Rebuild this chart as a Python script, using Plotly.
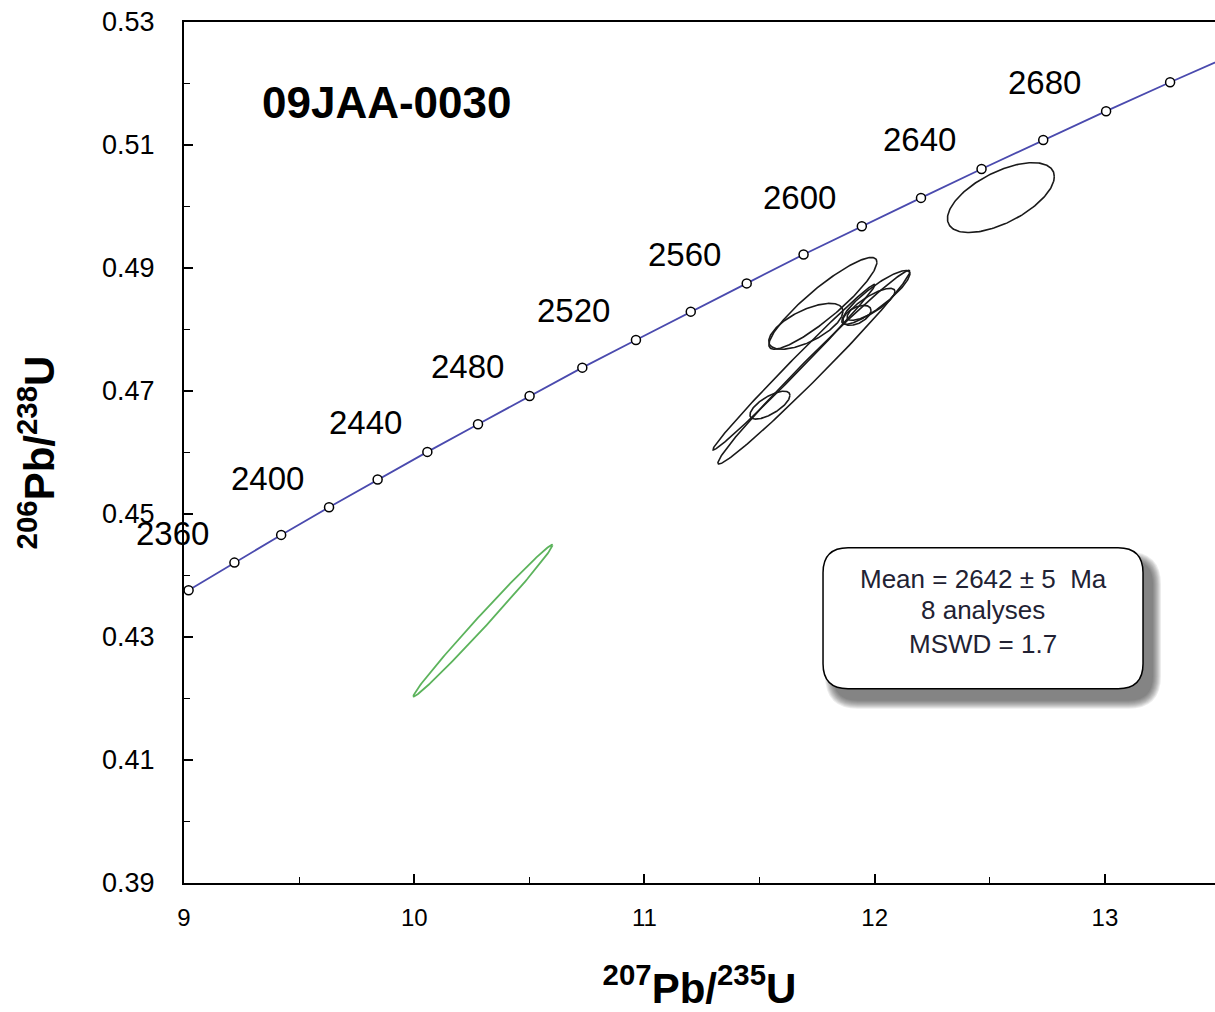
import numpy as np
import plotly.graph_objects as go

# concordia ages (Ma) and ratios
ages = [2340, 2360, 2380, 2400, 2420, 2440, 2460, 2480, 2500, 2520,
        2540, 2560, 2580, 2600, 2620, 2640, 2660, 2680, 2700, 2720]
conc_x = [9.020, 9.219, 9.422, 9.630, 9.841, 10.057, 10.277, 10.501, 10.730, 10.963,
          11.201, 11.444, 11.691, 11.944, 12.201, 12.464, 12.732, 13.005, 13.283, 13.567]
conc_y = [0.4376, 0.4421, 0.4466, 0.4511, 0.4556, 0.4601, 0.4646, 0.4692, 0.4738, 0.4783,
          0.4829, 0.4875, 0.4922, 0.4968, 0.5014, 0.5061, 0.5108, 0.5155, 0.5202, 0.5249]
label_ages = [2360, 2400, 2440, 2480, 2520, 2560, 2600, 2640, 2680]

# analyses: centre x, centre y, sigma x, sigma y, correlation
ell_x = [11.775, 11.701, 11.649, 11.736, 11.545, 12.005, 11.984, 11.923, 12.548]
ell_y = [0.48425, 0.48052, 0.47387, 0.47387, 0.4677, 0.48522, 0.48409, 0.4823, 0.50145]
ell_sx = [0.2345, 0.161, 0.352, 0.417, 0.087, 0.148, 0.104, 0.061, 0.232]
ell_sy = [0.00746, 0.00373, 0.01347, 0.01574, 0.00227, 0.00438, 0.0026, 0.00162, 0.00568]
ell_rho = [0.90, 0.65, 0.9946, 0.989, 0.7, 0.88, 0.8, 0.5, 0.6]

# excluded analysis (green)
rej_x, rej_y, rej_sx, rej_sy, rej_rho = 10.2986, 0.43266, 0.302, 0.01233, 0.994

box_lines = ["Mean = 2642 ± 5  Ma", "8 analyses", "MSWD = 1.7"]
sample_name = "09JAA-0030"

FONT = "Liberation Sans, Arial, sans-serif"


def ellipse_xy(cx, cy, sx, sy, rho, n=200):
    t = np.linspace(0, 2 * np.pi, n)
    x = cx + sx * np.cos(t)
    y = cy + sy * (rho * np.cos(t) + np.sqrt(1 - rho ** 2) * np.sin(t))
    return x, y


def rounded_path(w, h, r):
    return (
        f"M {-w + r},{-h} L {w - r},{-h} Q {w},{-h} {w},{-h + r} "
        f"L {w},{h - r} Q {w},{h} {w - r},{h} L {-w + r},{h} "
        f"Q {-w},{h} {-w},{h - r} L {-w},{-h + r} Q {-w},{-h} {-w + r},{-h} Z"
    )


fig = go.Figure()

fig.add_trace(
    go.Scatter(
        x=conc_x,
        y=conc_y,
        mode="lines+markers",
        line=dict(color="#4a4aae", width=1.8),
        marker=dict(symbol="circle", size=9, color="white",
                    line=dict(color="black", width=1.5)),
        hoverinfo="skip",
    )
)

for cx, cy, sx, sy, r in zip(ell_x, ell_y, ell_sx, ell_sy, ell_rho):
    ex, ey = ellipse_xy(cx, cy, sx, sy, r)
    fig.add_trace(go.Scatter(x=ex, y=ey, mode="lines",
                             line=dict(color="#1a1a1a", width=1.6), hoverinfo="skip"))

ex, ey = ellipse_xy(rej_x, rej_y, rej_sx, rej_sy, rej_rho)
fig.add_trace(go.Scatter(x=ex, y=ey, mode="lines",
                         line=dict(color="#5cb35c", width=1.8), hoverinfo="skip"))

# age labels
for a in label_ages:
    i = ages.index(a)
    fig.add_annotation(
        x=conc_x[i], y=conc_y[i], text=str(a), showarrow=False,
        xanchor="center", yanchor="middle",
        xshift=-62, yshift=29, font=dict(family=FONT, size=33, color="black"),
    )

fig.add_annotation(
    x=0.197, y=0.907, xref="paper", yref="paper", text="<b>" + sample_name + "</b>",
    xanchor="center", yanchor="middle",
    showarrow=False, font=dict(family=FONT, size=44, color="black"),
)

# text box with shadow
bx, by = 0.775, 0.3076
sdx, sdy = 10 / 1031, -12 / 863
for k in range(8, -1, -1):
    fig.add_shape(
        type="path", xref="paper", yref="paper", xsizemode="pixel", ysizemode="pixel",
        xanchor=bx + sdx, yanchor=by + sdy, path=rounded_path(160 + k, 70.5 + k, 25 + k),
        fillcolor="rgba(40,40,40,0.09)", line=dict(width=0),
    )
fig.add_shape(
    type="path", xref="paper", yref="paper", xsizemode="pixel", ysizemode="pixel",
    xanchor=bx, yanchor=by, path=rounded_path(160, 70.5, 25),
    fillcolor="white", line=dict(color="black", width=1.5),
)
for txt, yy in zip(box_lines, [0.3534, 0.3175, 0.2781]):
    fig.add_annotation(
        x=bx, y=yy, xref="paper", yref="paper", text=txt, showarrow=False,
        xanchor="center", yanchor="middle",
        font=dict(family=FONT, size=26, color="#222233"),
    )

fig.update_xaxes(
    range=[9, 13.478], tick0=9, dtick=1, ticks="inside", ticklen=9, tickwidth=1.5,
    tickcolor="black", showline=True, linecolor="black", linewidth=2, mirror=True,
    showgrid=False, zeroline=False, ticklabelstandoff=12, ticklabeloverflow="allow",
    tickfont=dict(family=FONT, size=24, color="black"),
    minor=dict(dtick=0.5, ticks="inside", ticklen=6, tickwidth=1.2, tickcolor="black"),
    title=dict(text="<b><sup>207</sup>Pb/<sup>235</sup>U</b>", standoff=52,
               font=dict(family=FONT, size=42, color="black")),
)
fig.update_yaxes(
    range=[0.39, 0.53], tick0=0.39, dtick=0.02, tickformat=".2f", ticks="inside",
    ticklen=9, tickwidth=1.5, tickcolor="black", showline=True, linecolor="black",
    linewidth=2, showgrid=False, zeroline=False, ticklabelstandoff=22,
    ticklabeloverflow="allow",
    tickfont=dict(family=FONT, size=27, color="black"),
    minor=dict(dtick=0.01, ticks="inside", ticklen=6, tickwidth=1.2, tickcolor="black"),
    title=dict(text="<b><sup>206</sup>Pb/<sup>238</sup>U</b>", standoff=34,
               font=dict(family=FONT, size=42, color="black")),
)

fig.update_layout(
    width=1215, height=1012,
    margin=dict(l=184, r=0, t=22, b=127),
    plot_bgcolor="white", paper_bgcolor="white",
    showlegend=False,
)

# drop the page's default body margin so the figure sits at the window's corner
fig.write_html(
    "out.html",
    config={"displayModeBar": False},
    post_script="document.body.style.margin='0';document.body.style.overflow='hidden';",
)
